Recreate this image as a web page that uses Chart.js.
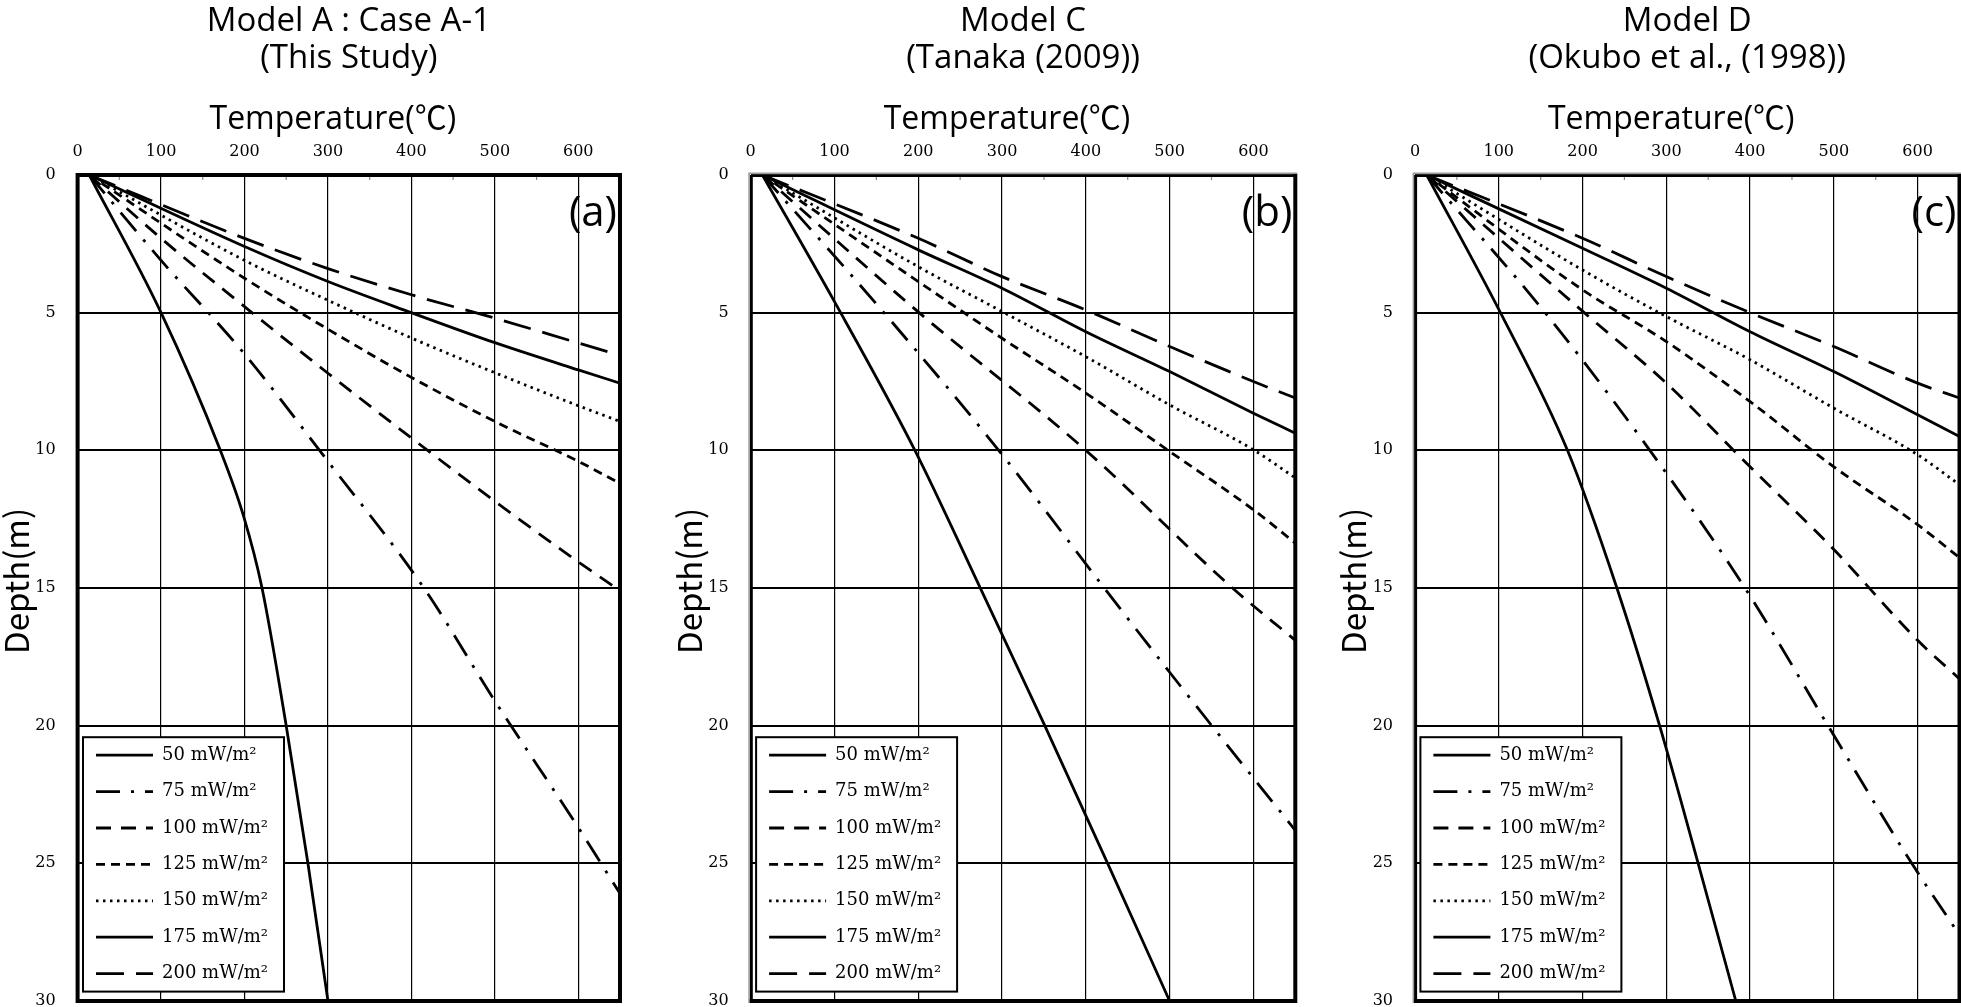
<!DOCTYPE html>
<html><head><meta charset="utf-8">
<script src="https://cdn.jsdelivr.net/npm/chart.js@4.4.1/dist/chart.umd.min.js"></script>
<style>
html,body{margin:0;padding:0;background:#fff;width:1961px;height:1007px;overflow:hidden;position:relative}
canvas{position:absolute;top:0}
</style></head><body>
<canvas id="pa"></canvas><canvas id="pb"></canvas><canvas id="pc"></canvas>
<script>
// ---- labels & ticks ----
const seriesLabels = ['50 mW/m²','75 mW/m²','100 mW/m²','125 mW/m²','150 mW/m²','175 mW/m²','200 mW/m²'];
const xTicks = [0,100,200,300,400,500,600];
const xMinorTicks = [50,150,250,350,450,550];
const yTicks = [0,5,10,15,20,25,30];
const titleA = ['Model A : Case A-1','(This Study)'];
const titleB = ['Model C','(Tanaka (2009))'];
const titleC = ['Model D','(Okubo et al., (1998))'];

// ---- Panel (a): temperature (°C) and depth (m) ----
const a50T  = [14,100,171,199,221,250,276,300];
const a50D  = [0,5,10,12.4,15,20,25,30];
const a75T  = [14,100,200,300,415,500,600,650];
const a75D  = [0,3.1,6.5,10.4,15,19.1,23.7,26.1];
const a100T = [14,100,207,300,400,500,600,650];
const a100D = [0,2.3,4.95,7.2,9.55,11.85,14.05,15.1];
const a125T = [14,200,300,400,500,600,650];
const a125D = [0,3.75,5.6,7.35,8.95,10.4,11.2];
const a150T = [14,200,300,400,500,600,650];
const a150D = [0,3.1,4.55,5.92,7.18,8.38,8.95];
const a175T = [14,200,300,400,500,600,650];
const a175D = [0,2.6,3.87,5.0,6.09,7.08,7.56];
const a200T = [14,200,300,400,500,600,650];
const a200D = [0,2.3,3.4,4.35,5.2,6.1,6.55];

// ---- Panel (b) ----
const b50T  = [14,100,196,274,351,426,500];
const b50D  = [0,4.6,10,15,20,25,30];
const b75T  = [14,159,296,422,500,600,650];
const b75D  = [0,5,10,15,18.06,21.9,23.8];
const b100T = [14,201,400,575,650];
const b100D = [0,5,10,15,16.9];
const b125T = [14,200,300,400,500,600,650];
const b125D = [0,3.87,5.93,7.92,10.04,12.16,13.37];
const b150T = [14,200,300,400,500,600,650];
const b150D = [0,3.33,4.96,6.6,8.35,9.98,11.0];
const b175T = [14,200,300,400,500,600,650];
const b175D = [0,2.72,4.11,5.69,7.14,8.65,9.38];
const b200T = [14,200,300,400,500,600,650];
const b200D = [0,2.3,3.69,4.9,6.23,7.5,8.1];

// ---- Panel (c) ----
const c50T  = [14,102,182,241,292,338,383];
const c50D  = [0,5,10,15,20,25,30];
const c75T  = [14,158,300,396,496,593,650];
const c75D  = [0,5.1,10.83,15.1,20.15,25,27.6];
const c100T = [14,202,300,400,500,600,650];
const c100D = [0,5,7.56,10.6,13.6,16.9,18.3];
const c125T = [14,200,300,400,500,600,650];
const c125D = [0,4.17,6.05,8.23,10.6,12.7,13.9];
const c150T = [14,200,300,400,500,600,650];
const c150D = [0,3.45,5.14,6.71,8.47,10.16,11.25];
const c175T = [14,200,300,400,500,600,650];
const c175D = [0,2.66,4.11,5.69,7.14,8.71,9.5];
const c200T = [14,200,300,400,500,600,650];
const c200D = [0,2.3,3.69,5.0,6.23,7.56,8.1];

// ---- styles ----
const dashes = [[], [24,11,3,11], [15,10], [9,6], [2.5,4.5], [], [28,12]];
const legendDashOffsets = [0, 0, 0, 0, 0, 0, 0];
const SANS = "'Open Sans','Noto Sans CJK JP',sans-serif";
const CJK = "'Noto Sans CJK JP','Noto Sans',sans-serif";
const SERIF = "'DejaVu Serif',serif";
const TITLE_PAD_TOP = 3, TITLE_LH = 37, TITLE_PAD_BOTTOM = 5;

function pairs(T, D){ return T.map((t,i)=>({x:t, y:D[i]})); }
function makeSets(list){
  return list.map((s,i)=>({
    label: seriesLabels[i],
    data: pairs(s[0], s[1]),
    showLine: true,
    borderColor: '#000',
    backgroundColor: '#000',
    borderWidth: 2.8,
    borderDash: dashes[i],
    pointRadius: 0,
    cubicInterpolationMode: 'monotone'
  }));
}

function shiftTitle(scale, dx, dy){
  if (scale._titleShifted) return;
  const orig = scale.drawTitle;
  scale.drawTitle = function(){
    this.ctx.save(); this.ctx.translate(dx, dy);
    orig.apply(this, arguments);
    this.ctx.restore();
  };
  scale._titleShifted = true;
}

const panelPlugin = {
  id: 'panelDeco',
  afterLayout(chart){
    shiftTitle(chart.scales.x, -16, 0);
    shiftTitle(chart.scales.y, 0, -7);
  },
  beforeDraw(chart){
    const lg = chart.legend, ca = chart.chartArea;
    if (!lg) return;
    lg.left = ca.left; lg.right = ca.right; lg.top = ca.top; lg.bottom = ca.bottom;
    lg.maxWidth = ca.right - ca.left; lg.maxHeight = ca.bottom - ca.top;
    lg.fit();
    lg.right = ca.right; lg.bottom = ca.bottom;
    lg.adjustHitBoxes();
  },
  afterDraw(chart, args, opts){
    const {ctx, chartArea:{left,right,top,bottom}} = chart;
    const xs = chart.scales.x;
    ctx.save();
    const hb = chart.legend.legendHitBoxes;
    if (hb && hb.length){
      const x0 = hb[0].left - 13, y0 = hb[0].top - 9;
      const x1 = Math.max(...hb.map(h=>h.left+h.width)) + 16;
      const last = hb[hb.length-1];
      const y1 = last.top + last.height + 9;
      ctx.fillStyle = '#fff';
      ctx.fillRect(x0, y0, x1-x0, y1-y0);
      ctx.strokeStyle = '#000'; ctx.lineWidth = 2; ctx.setLineDash([]);
      ctx.strokeRect(x0, y0, x1-x0, y1-y0);
      chart.legend.draw();
    }
    ctx.restore();
    ctx.save();
    ctx.setLineDash([]);
    ctx.strokeStyle = '#888'; ctx.lineWidth = 1.2;
    xMinorTicks.forEach(v=>{
      const px = xs.getPixelForValue(v);
      ctx.beginPath(); ctx.moveTo(px, top); ctx.lineTo(px, top+5); ctx.stroke();
    });
    ctx.strokeStyle = '#000';
    if (opts.frame === 'thick'){
      ctx.lineWidth = 4;
      ctx.strokeRect(left, top, right-left, bottom-top);
    } else {
      ctx.strokeStyle = '#9a9a9a'; ctx.lineWidth = 1.6;
      ctx.beginPath(); ctx.moveTo(left-1.6, bottom+2); ctx.lineTo(left-1.6, top-1.6); ctx.lineTo(right+2, top-1.6); ctx.stroke();
      ctx.strokeStyle = '#000'; ctx.lineWidth = 2.2;
      ctx.beginPath(); ctx.moveTo(left+1, bottom); ctx.lineTo(left+1, top+1); ctx.lineTo(right, top+1); ctx.stroke();
      ctx.lineWidth = 4;
      ctx.beginPath(); ctx.moveTo(right, top-1); ctx.lineTo(right, bottom); ctx.lineTo(left-1, bottom); ctx.stroke();
    }
    ctx.fillStyle = '#000';
    ctx.font = "42px 'Open Sans','Noto Sans',sans-serif";
    ctx.textAlign = 'right'; ctx.textBaseline = 'middle';
    ctx.fillText(opts.tag, right - 3, top + 39);
    ctx.restore();
  }
};

function legendLabels(chart){
  return chart.data.datasets.map((ds, i) => ({
    text: ds.label, fillStyle: '#000', strokeStyle: '#000', fontColor: '#000',
    lineWidth: ds.borderWidth, lineDash: ds.borderDash, lineDashOffset: legendDashOffsets[i],
    lineCap: 'butt', pointStyle: 'line', rotation: 0, hidden: false, datasetIndex: i
  }));
}

function build(id, canvasLeft, yAxisW, plotW, title, tag, frame, sets){
  const cv = document.getElementById(id);
  const W = Math.ceil(yAxisW + plotW + 4);
  const H = 1007;
  cv.width = W; cv.height = H;
  cv.style.left = canvasLeft + 'px';
  cv.style.width = W + 'px'; cv.style.height = H + 'px';
  const titleH = TITLE_PAD_TOP + 2 * TITLE_LH + TITLE_PAD_BOTTOM;
  new Chart(cv, {
    type: 'scatter',
    data: { datasets: makeSets(sets) },
    options: {
      responsive: false, animation: false, devicePixelRatio: 1, events: [],
      layout: { padding: { left: 0, top: 0, right: W - yAxisW - plotW, bottom: 6 } },
      scales: {
        x: {
          type: 'linear', position: 'top', min: 0, max: 650,
          afterBuildTicks: s => { s.ticks = xTicks.map(v=>({value:v})); },
          afterFit: s => { s.height = 175 - titleH; s.paddingLeft = 0; s.paddingRight = 0; },
          ticks: { font: {family: SERIF, size: 16}, color: '#000', padding: 14, maxRotation: 0, autoSkip: false },
          grid: { color: '#000', lineWidth: 1.2, drawTicks: false },
          border: { display: false },
          title: { display: true, text: 'Temperature(℃)', color: '#000',
                   font: {family: SANS, size: 32, lineHeight: 1.2}, padding: {top: 120 - titleH - 19.2, bottom: 0} }
        },
        y: {
          type: 'linear', reverse: true, min: 0, max: 30,
          afterBuildTicks: s => { s.ticks = yTicks.map(v=>({value:v})); },
          afterFit: s => { s.width = yAxisW; s.paddingTop = 0; s.paddingBottom = 0; },
          ticks: { font: {family: SERIF, size: 16}, color: '#000', padding: 22 },
          grid: { color: '#000', lineWidth: 2, drawTicks: false },
          border: { display: false },
          title: { display: true, text: 'Depth(m)', color: '#000',
                   font: {family: CJK, size: 33, lineHeight: 1}, padding: {top: yAxisW - 77.6, bottom: 0} }
        }
      },
      plugins: {
        title: { display: true, text: title, color: '#000', fullSize: false,
                 font: {family: SANS, size: 33, weight: 'normal', lineHeight: TITLE_LH + 'px'},
                 padding: {top: TITLE_PAD_TOP, bottom: TITLE_PAD_BOTTOM} },
        legend: {
          display: true, position: 'chartArea', align: 'end',
          labels: { usePointStyle: true, pointStyle: 'line', pointStyleWidth: 57, color: '#000',
                    font: {family: SERIF, size: 18}, padding: 18.4, generateLabels: legendLabels }
        },
        tooltip: { enabled: false },
        panelDeco: { tag: tag, frame: frame }
      }
    },
    plugins: [panelPlugin]
  });
}

build('pa', 0, 77.6, 542.4, titleA, '(a)', 'thick', [
  [a50T,a50D],[a75T,a75D],[a100T,a100D],[a125T,a125D],[a150T,a150D],[a175T,a175D],[a200T,a200D]]);
build('pb', 673, 77.7, 544.6, titleB, '(b)', 'frame', [
  [b50T,b50D],[b75T,b75D],[b100T,b100D],[b125T,b125D],[b150T,b150D],[b175T,b175D],[b200T,b200D]]);
build('pc', 1337, 78, 544.5, titleC, '(c)', 'frame', [
  [c50T,c50D],[c75T,c75D],[c100T,c100D],[c125T,c125D],[c150T,c150D],[c175T,c175D],[c200T,c200D]]);
</script>
</body></html>
